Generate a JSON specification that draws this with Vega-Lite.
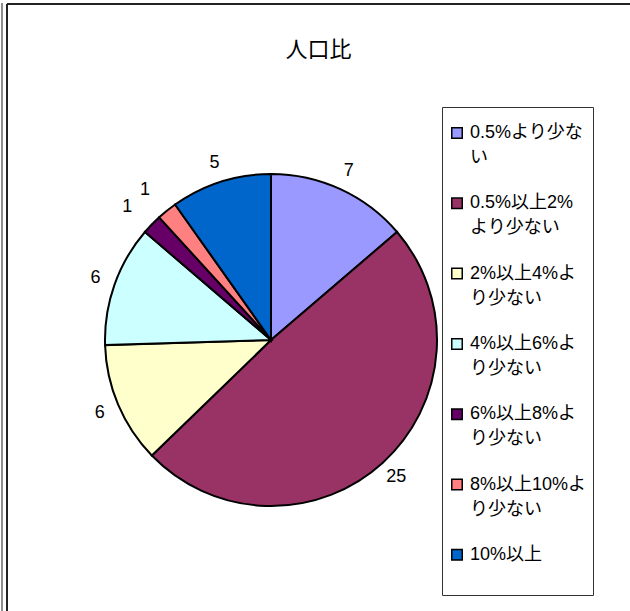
{
  "$schema": "https://vega.github.io/schema/vega-lite/v6.json",
  "autosize": "none",
  "width": 623,
  "height": 607,
  "padding": {"left": 7, "top": 4, "right": 0, "bottom": 0},
  "background": "white",
  "config": {
    "view": {"stroke": null},
    "font": "Liberation Sans, Noto Sans CJK JP"
  },
  "title": {"text": "人口比", "fontSize": 22, "fontWeight": "normal", "font": "Noto Sans CJK JP", "color": "#000", "dy": 64, "anchor": "middle"},
  "data": {
    "values": [
      {"category": "0.5%より少ない", "count": 7},
      {"category": "0.5%以上2%より少ない", "count": 25},
      {"category": "2%以上4%より少ない", "count": 6},
      {"category": "4%以上6%より少ない", "count": 6},
      {"category": "6%以上8%より少ない", "count": 1},
      {"category": "8%以上10%より少ない", "count": 1},
      {"category": "10%以上", "count": 5}
    ]
  },
  "transform": [{"window": [{"op": "row_number", "as": "rank"}]}],
  "layer": [
    {
      "data": {"values": [{}]},
      "mark": {"type": "rect", "x": 0, "x2": "width", "y": 0, "y2": "height", "fill": null, "stroke": "#222", "strokeWidth": 2, "strokeDash": [623, 1230, 607, 0]},
      "encoding": {}
    },
    {
      "data": {"values": [{}]},
      "mark": {"type": "rect", "x": -5, "x2": -5, "y": -1, "y2": "height", "fill": null, "stroke": "#444", "strokeWidth": 1.2},
      "encoding": {}
    },
    {
      "mark": {"type": "arc", "outerRadius": 166, "stroke": "#000", "strokeWidth": 2, "xOffset": -47.5, "yOffset": 32.5},
      "encoding": {
        "theta": {"field": "count", "type": "quantitative", "stack": true},
        "order": {"field": "rank", "type": "quantitative", "sort": "ascending"},
        "color": {
          "field": "category",
          "type": "nominal",
          "sort": null,
          "scale": {
            "domain": ["0.5%より少ない", "0.5%以上2%より少ない", "2%以上4%より少ない", "4%以上6%より少ない", "6%以上8%より少ない", "8%以上10%より少ない", "10%以上"],
            "range": ["#9999FF", "#993366", "#FFFFCC", "#CCFFFF", "#660066", "#FF8080", "#0066CC"]
          },
          "legend": {
            "title": " ",
            "titleFontSize": 4,
            "titlePadding": 7,
            "orient": "none",
            "legendX": 435,
            "legendY": 103,
            "direction": "vertical",
            "symbolType": "square",
            "symbolSize": 110,
            "symbolStrokeColor": "#000",
            "symbolStrokeWidth": 1.5,
            "labelFont": "Liberation Sans, Noto Sans CJK JP",
            "labelFontSize": 18,
            "labelColor": "#000",
            "labelLimit": 200,
            "labelBaseline": "top",
            "labelOffset": 4,
            "rowPadding": 27.3,
            "padding": 6,
            "strokeColor": "#333",
            "fillColor": "white",
            "labelExpr": "datum.label == '0.5%より少ない' ? ['0.5%より少な', 'い'] : datum.label == '0.5%以上2%より少ない' ? ['0.5%以上2%', 'より少ない'] : datum.label == '2%以上4%より少ない' ? ['2%以上4%よ', 'り少ない'] : datum.label == '4%以上6%より少ない' ? ['4%以上6%よ', 'り少ない'] : datum.label == '6%以上8%より少ない' ? ['6%以上8%よ', 'り少ない'] : datum.label == '8%以上10%より少ない' ? ['8%以上10%よ', 'り少ない'] : [datum.label, ' ']",
            "encoding": {"labels": {"lineHeight": {"value": 25}, "dy": {"value": -9}}}
          }
        }
      }
    },
    {
      "mark": {"type": "text", "radius": 186, "fontSize": 18, "font": "Liberation Sans", "color": "#000", "xOffset": -47.5, "yOffset": 32.5},
      "encoding": {
        "theta": {"field": "count", "type": "quantitative", "stack": true},
        "order": {"field": "rank", "type": "quantitative", "sort": "ascending"},
        "detail": {"field": "category", "type": "nominal"},
        "text": {"condition": {"test": "datum.count > 1", "field": "count", "type": "quantitative"}, "value": ""}
      }
    },
    {
      "mark": {"type": "text", "radius": 196, "fontSize": 18, "font": "Liberation Sans", "color": "#000", "xOffset": -50.5, "yOffset": 35.5},
      "encoding": {
        "theta": {"field": "count", "type": "quantitative", "stack": true},
        "order": {"field": "rank", "type": "quantitative", "sort": "ascending"},
        "detail": {"field": "category", "type": "nominal"},
        "text": {"condition": {"test": "datum.count == 1", "field": "count", "type": "quantitative"}, "value": ""}
      }
    }
  ]
}
